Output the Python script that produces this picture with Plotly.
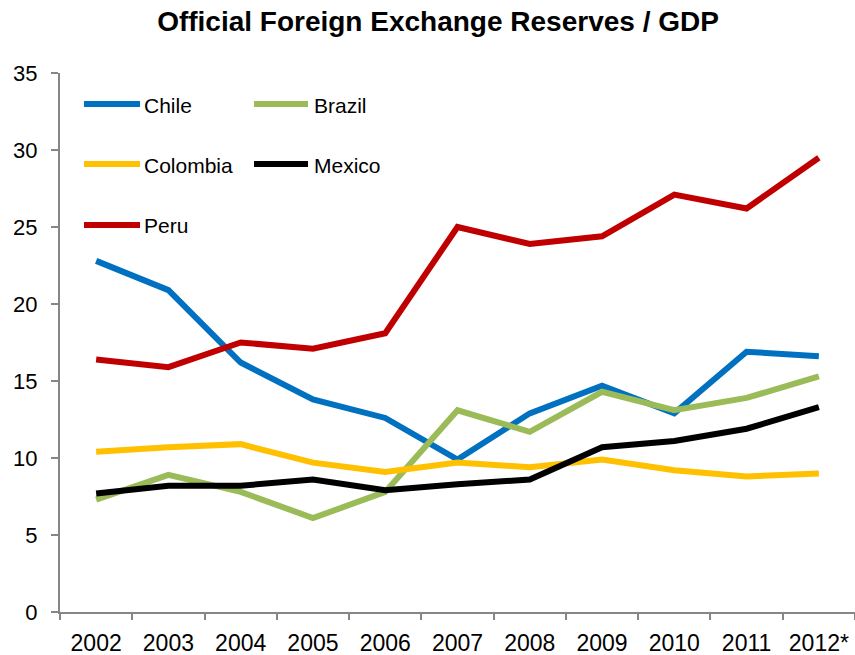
import plotly.graph_objects as go

# Reserves as a share of GDP (%), by country
years = ["2002", "2003", "2004", "2005", "2006", "2007", "2008", "2009", "2010", "2011", "2012*"]
chile = [22.8, 20.9, 16.2, 13.8, 12.6, 9.9, 12.9, 14.7, 12.9, 16.9, 16.6]
brazil = [7.3, 8.9, 7.8, 6.1, 7.8, 13.1, 11.7, 14.3, 13.1, 13.9, 15.3]
colombia = [10.4, 10.7, 10.9, 9.7, 9.1, 9.7, 9.4, 9.9, 9.2, 8.8, 9.0]
mexico = [7.7, 8.2, 8.2, 8.6, 7.9, 8.3, 8.6, 10.7, 11.1, 11.9, 13.3]
peru = [16.4, 15.9, 17.5, 17.1, 18.1, 25.0, 23.9, 24.4, 27.1, 26.2, 29.5]

series = [
    ("Chile", chile, "#0070C0"),
    ("Brazil", brazil, "#9BBB59"),
    ("Colombia", colombia, "#FFC000"),
    ("Mexico", mexico, "#000000"),
    ("Peru", peru, "#C00000"),
]

W, H = 855, 655
ML, MR, MT, MB = 60, 0, 73, 43
FONT = "Liberation Sans, Arial, sans-serif"
AXIS_GREY = "#868686"
LINE_W = 6

fig = go.Figure()
for name, vals, color in series:
    fig.add_trace(go.Scatter(
        x=years, y=vals, name=name, mode="lines",
        line=dict(color=color, width=LINE_W),
        hoverinfo="skip", showlegend=False,
    ))

# Two-column key in the upper-left corner of the plot
plot_w, plot_h = W - ML - MR, H - MT - MB
def px_x(px):
    return (px - ML) / plot_w
def px_y(py):
    return (H - MB - py) / plot_h

key_cols = [(84, 140, 142), (254, 308, 312)]
key_rows = [104, 164, 225]
for i, (name, _, color) in enumerate(series):
    x0, x1, xt = key_cols[i % 2]
    yy = key_rows[i // 2]
    fig.add_shape(type="line", xref="paper", yref="paper",
                  x0=px_x(x0), x1=px_x(x1), y0=px_y(yy), y1=px_y(yy),
                  line=dict(color=color, width=LINE_W))
    fig.add_annotation(text=name, xref="paper", yref="paper",
                       x=px_x(xt), y=px_y(yy + 1), xanchor="left", yanchor="middle",
                       showarrow=False, font=dict(size=21, color="#000000", family=FONT))

fig.update_layout(
    width=W, height=H,
    margin=dict(l=ML, r=MR, t=MT, b=MB),
    paper_bgcolor="white", plot_bgcolor="white",
    font=dict(family=FONT, color="#000000"),
    title=dict(text="<b>Official Foreign Exchange Reserves / GDP</b>",
               x=438 / W, xanchor="center", xref="container",
               y=1 - 21 / H, yanchor="middle", yref="container",
               font=dict(size=28, family=FONT, color="#000000")),
    showlegend=False,
)
fig.update_xaxes(
    type="category", range=[-0.5, 10.5],
    showline=True, linecolor=AXIS_GREY, linewidth=2,
    ticks="outside", tickson="boundaries", ticklen=6, tickwidth=2, tickcolor=AXIS_GREY,
    showgrid=False, zeroline=False, ticklabelstandoff=9,
    tickfont=dict(size=23, family=FONT, color="#000000"),
)
fig.update_yaxes(
    range=[0, 35], dtick=5, tick0=0,
    showline=True, linecolor=AXIS_GREY, linewidth=2,
    ticks="outside", ticklen=7, tickwidth=2, tickcolor=AXIS_GREY,
    showgrid=False, zeroline=False, ticklabelstandoff=9,
    tickfont=dict(size=22, family=FONT, color="#000000"),
)

fig.write_html("out.html", include_plotlyjs=True)
